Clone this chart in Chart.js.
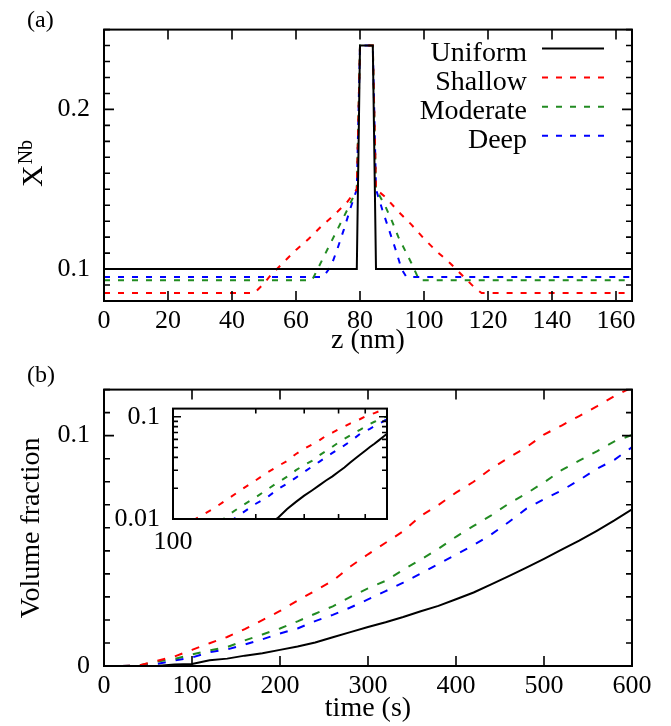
<!DOCTYPE html>
<html>
<head>
<meta charset="utf-8">
<title>Nb profiles and precipitate volume fraction</title>
<script src="https://cdn.jsdelivr.net/npm/chart.js@4.4.0/dist/chart.umd.min.js"></script>
<style>
  body { margin: 0; background: #fff; }
  #wrap { position: relative; width: 671px; height: 726px; }
  canvas { position: absolute; }
</style>
</head>
<body>
<div id="wrap">
  <canvas id="profile" width="671" height="360" style="left:0;top:0"></canvas>
  <canvas id="growth" width="671" height="366" style="left:0;top:360px"></canvas>
  <canvas id="inset" width="300" height="185" style="left:100px;top:380px"></canvas>
</div>
<script>
// (a) Nb mole fraction along z (nm)
var zUniform = [0, 79, 80, 84, 85, 165];
var xUniform = [0.1, 0.1, 0.24, 0.24, 0.1, 0.1];
var zShallow = [0, 47, 50, 52, 56, 60, 64, 68, 72, 76, 79, 80, 84, 85, 88, 92, 96, 100, 104, 108, 112, 116, 118, 165];
var xShallow = [0.085, 0.085, 0.091, 0.096, 0.104, 0.112, 0.119, 0.127, 0.134, 0.142, 0.15, 0.24, 0.24,
                0.15, 0.145, 0.136, 0.128, 0.119, 0.111, 0.104, 0.096, 0.088, 0.085, 0.085];
var zModerate = [0, 65, 68, 70, 72, 74, 76, 79, 80, 84, 85, 88, 90, 92, 94, 96, 98.5, 165];
var xModerate = [0.093, 0.093, 0.105, 0.113, 0.121, 0.129, 0.137, 0.15, 0.24, 0.24,
                 0.15, 0.139, 0.13, 0.12, 0.112, 0.104, 0.093, 0.093];
var zDeep = [0, 68.5, 71, 73, 75, 77, 79, 80, 84, 85, 87, 89, 91, 93, 94.5, 165];
var xDeep = [0.095, 0.095, 0.102, 0.113, 0.125, 0.138, 0.15, 0.24, 0.24,
             0.15, 0.137, 0.125, 0.113, 0.1, 0.095, 0.095];

// (b) volume fraction vs time (s)
var time = [0, 20, 40, 60, 80, 100, 120, 140, 160, 180, 200, 220, 240, 260, 280, 300,
            320, 340, 360, 380, 400, 420, 440, 460, 480, 500, 520, 540, 560, 580, 600];
var vfUniform = [0, 0, 0, 0, 0.0007, 0.0009, 0.0025, 0.0032, 0.0045, 0.0055, 0.007, 0.0085, 0.0102, 0.0125, 0.0147, 0.0169,
                 0.019, 0.0213, 0.0238, 0.0261, 0.029, 0.0319, 0.0354, 0.039, 0.0427, 0.0465, 0.0505, 0.0544, 0.0587, 0.0632, 0.068];
var vfShallow = [0, 0, 0.0003, 0.0022, 0.0041, 0.007, 0.0099, 0.0126, 0.016, 0.0199, 0.0239, 0.0284, 0.0327, 0.037, 0.0432, 0.0485,
                 0.0535, 0.0585, 0.0652, 0.0699, 0.0753, 0.08, 0.0857, 0.0905, 0.095, 0.1005, 0.1044, 0.1085, 0.1127, 0.1172, 0.121];
var vfModerate = [0, 0, 0.0003, 0.0019, 0.003, 0.005, 0.0068, 0.0082, 0.0111, 0.0137, 0.0163, 0.0194, 0.0227, 0.0259, 0.03, 0.0337,
                  0.037, 0.0418, 0.0462, 0.0509, 0.0561, 0.0608, 0.0654, 0.0705, 0.0749, 0.0797, 0.085, 0.0892, 0.0932, 0.0975, 0.1003];
var vfDeep = [0, 0, 0.0002, 0.0009, 0.0024, 0.0037, 0.006, 0.0072, 0.0093, 0.0116, 0.0141, 0.0163, 0.0195, 0.0222, 0.0254, 0.0289,
              0.0325, 0.0362, 0.0402, 0.0443, 0.0484, 0.0525, 0.0571, 0.0625, 0.0683, 0.0724, 0.0762, 0.0807, 0.0856, 0.0895, 0.095];

// tick values
var zTicks = [0, 20, 40, 60, 80, 100, 120, 140, 160];
var xnbTicks = [0.08, 0.09, 0.1, 0.11, 0.12, 0.13, 0.14, 0.15, 0.16, 0.17, 0.18, 0.19, 0.2, 0.21, 0.22, 0.23, 0.24, 0.25];
var timeTicks = [0, 100, 200, 300, 400, 500, 600];
var vfTicks = [0, 0.01, 0.02, 0.03, 0.04, 0.05, 0.06, 0.07, 0.08, 0.09, 0.1, 0.11, 0.12];
var insetTimeTicks = [100, 200, 300, 400, 500, 600];
var insetVfTicks = [0.01, 0.02, 0.03, 0.04, 0.05, 0.06, 0.07, 0.08, 0.09, 0.1];

var serif = '"Liberation Serif", "DejaVu Serif", serif';
var red = '#ff0000', green = '#228b22', blue = '#0000ff';

function pairs(xs, ys) {
  return xs.map(function (x, i) { return { x: x, y: ys[i] }; });
}
function setTicks(values) {
  return function (scale) {
    scale.ticks = values.map(function (v) { return { value: v }; });
  };
}
function labelOnly(shown) {
  return function (v) {
    for (var i = 0; i < shown.length; i++) {
      if (Math.abs(v - shown[i]) < 1e-9) return String(shown[i]);
    }
    return '';
  };
}

// box round the plot area with inward ticks on all four sides
var frame = {
  id: 'frame',
  afterDraw: function (chart, args, opts) {
    var ctx = chart.ctx, a = chart.chartArea;
    var xs = chart.scales.x, ys = chart.scales.y;
    ctx.save();
    ctx.strokeStyle = '#000';
    ctx.lineWidth = 1.6;
    ctx.beginPath();
    xs.ticks.forEach(function (t) {
      var p = xs.getPixelForValue(t.value);
      var len = t.label ? opts.major : opts.minor;
      ctx.moveTo(p, a.bottom); ctx.lineTo(p, a.bottom - len);
      ctx.moveTo(p, a.top); ctx.lineTo(p, a.top + len);
    });
    ys.ticks.forEach(function (t) {
      var p = ys.getPixelForValue(t.value);
      var len = t.label ? opts.major : opts.minor;
      ctx.moveTo(a.left, p); ctx.lineTo(a.left + len, p);
      ctx.moveTo(a.right, p); ctx.lineTo(a.right - len, p);
    });
    ctx.stroke();
    ctx.lineWidth = 2;
    ctx.strokeRect(a.left, a.top, a.right - a.left, a.bottom - a.top);
    ctx.restore();
  }
};

// legend of panel (a): right aligned names, line sample to the right
var sideLegend = {
  id: 'sideLegend',
  afterDraw: function (chart) {
    var ctx = chart.ctx;
    ctx.save();
    ctx.font = '28px ' + serif;
    ctx.textAlign = 'right';
    ctx.fillStyle = '#000';
    chart.data.datasets.forEach(function (ds, i) {
      var y = 48.5 + i * 29.1;
      ctx.fillText(ds.label, 527, y + 12.5);
      ctx.strokeStyle = ds.borderColor;
      ctx.lineWidth = ds.borderWidth;
      ctx.setLineDash(ds.borderDash || []);
      ctx.beginPath();
      ctx.moveTo(542, y);
      ctx.lineTo(604, y);
      ctx.stroke();
    });
    ctx.restore();
  }
};

var profileNotes = {
  id: 'profileNotes',
  afterDraw: function (chart) {
    var ctx = chart.ctx;
    ctx.save();
    ctx.fillStyle = '#000';
    ctx.font = '24px ' + serif;
    ctx.fillText('(a)', 27, 27);
    ctx.translate(42, 187);
    ctx.rotate(-Math.PI / 2);
    ctx.font = '30px ' + serif;
    ctx.fillText('X', 0, 0);
    var w = ctx.measureText('X').width;
    ctx.font = '20px ' + serif;
    ctx.fillText('Nb', w + 1, -10);
    ctx.restore();
  }
};

var growthNotes = {
  id: 'growthNotes',
  afterDraw: function (chart) {
    var ctx = chart.ctx;
    ctx.save();
    ctx.fillStyle = '#000';
    ctx.font = '24px ' + serif;
    ctx.fillText('(b)', 27, 22);
    ctx.restore();
  }
};

function tickFont() { return { family: serif, size: 26 }; }
function quiet() {
  return { display: false, drawTicks: false };
}

function line(label, data, color, dash) {
  return {
    label: label, data: data, borderColor: color, borderWidth: 2,
    borderDash: dash, pointRadius: 0, fill: false, tension: 0
  };
}

new Chart(document.getElementById('profile'), {
  type: 'line',
  data: {
    datasets: [
      line('Uniform', pairs(zUniform, xUniform), '#000', []),
      line('Shallow', pairs(zShallow, xShallow), red, [6, 8]),
      line('Moderate', pairs(zModerate, xModerate), green, [6, 8]),
      line('Deep', pairs(zDeep, xDeep), blue, [6, 8])
    ]
  },
  options: {
    responsive: false, animation: false, events: [],
    layout: { padding: { left: 0, top: 22, right: 39, bottom: 0 } },
    plugins: { legend: { display: false }, tooltip: { enabled: false }, frame: { major: 10, minor: 6 } },
    scales: {
      x: {
        type: 'linear', min: 0, max: 165,
        afterBuildTicks: setTicks(zTicks),
        afterFit: function (s) { s.height = 59; },
        grid: quiet(), border: { display: false },
        ticks: { font: tickFont(), color: '#000', padding: 5, maxRotation: 0, autoSkip: false },
        title: { display: true, text: 'z (nm)', color: '#000', font: { family: serif, size: 28 }, padding: { top: 0, bottom: 3 } }
      },
      y: {
        type: 'linear', min: 0.08, max: 0.25,
        afterBuildTicks: setTicks(xnbTicks),
        afterFit: function (s) { s.width = 104; },
        grid: quiet(), border: { display: false },
        ticks: { font: tickFont(), color: '#000', padding: 14, autoSkip: false, callback: labelOnly([0.1, 0.2]) }
      }
    }
  },
  plugins: [frame, sideLegend, profileNotes]
});

new Chart(document.getElementById('growth'), {
  type: 'line',
  data: {
    datasets: [
      line('Uniform', pairs(time, vfUniform), '#000', []),
      line('Shallow', pairs(time, vfShallow), red, [8, 10]),
      line('Moderate', pairs(time, vfModerate), green, [8, 10]),
      line('Deep', pairs(time, vfDeep), blue, [8, 10])
    ]
  },
  options: {
    responsive: false, animation: false, events: [],
    layout: { padding: { left: 0, top: 16, right: 39, bottom: 0 } },
    plugins: { legend: { display: false }, tooltip: { enabled: false }, frame: { major: 10, minor: 6 } },
    scales: {
      x: {
        type: 'linear', min: 0, max: 600,
        afterBuildTicks: setTicks(timeTicks),
        afterFit: function (s) { s.height = 60; },
        grid: quiet(), border: { display: false },
        ticks: { font: tickFont(), color: '#000', padding: 5, maxRotation: 0, autoSkip: false },
        title: { display: true, text: 'time (s)', color: '#000', font: { family: serif, size: 28 }, padding: { top: 0, bottom: 1 } }
      },
      y: {
        type: 'linear', min: 0, max: 0.12,
        afterBuildTicks: setTicks(vfTicks),
        afterFit: function (s) { s.width = 104; },
        grid: quiet(), border: { display: false },
        ticks: { font: tickFont(), color: '#000', padding: 14, autoSkip: false, callback: labelOnly([0, 0.1]) },
        title: { display: true, text: 'Volume fraction', color: '#000', font: { family: serif, size: 28 }, padding: { top: 15, bottom: 0 } }
      }
    }
  },
  plugins: [frame, growthNotes]
});

new Chart(document.getElementById('inset'), {
  type: 'line',
  data: {
    datasets: [
      line('Uniform', pairs(time, vfUniform), '#000', []),
      line('Shallow', pairs(time, vfShallow), red, [6, 9]),
      line('Moderate', pairs(time, vfModerate), green, [6, 9]),
      line('Deep', pairs(time, vfDeep), blue, [6, 9])
    ]
  },
  options: {
    responsive: false, animation: false, events: [],
    layout: { padding: { left: 0, top: 17, right: 13, bottom: 0 } },
    plugins: { legend: { display: false }, tooltip: { enabled: false }, frame: { major: 8, minor: 5 } },
    scales: {
      x: {
        type: 'logarithmic', min: 100, max: 600,
        afterBuildTicks: setTicks(insetTimeTicks),
        afterFit: function (s) { s.height = 46; },
        grid: quiet(), border: { display: false },
        ticks: { font: tickFont(), color: '#000', padding: 8, maxRotation: 0, autoSkip: false, callback: labelOnly([100]) }
      },
      y: {
        type: 'logarithmic', min: 0.01, max: 0.12,
        afterBuildTicks: setTicks(insetVfTicks),
        afterFit: function (s) { s.width = 73; },
        grid: quiet(), border: { display: false },
        ticks: { font: tickFont(), color: '#000', padding: 13, autoSkip: false, callback: labelOnly([0.01, 0.1]) }
      }
    }
  },
  plugins: [frame]
});
</script>
</body>
</html>
